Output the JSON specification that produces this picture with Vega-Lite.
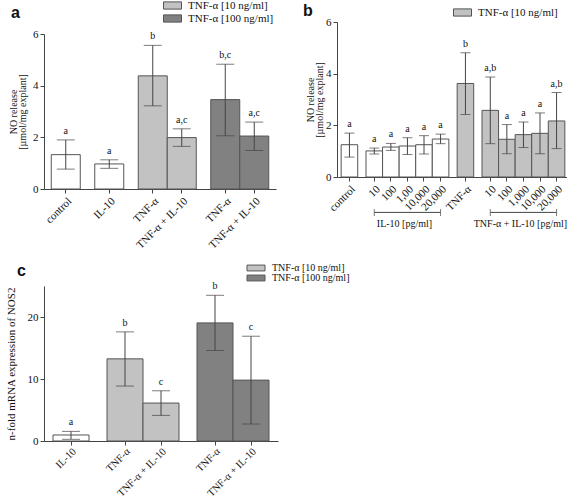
{
  "$schema": "https://vega.github.io/schema/vega-lite/v6.json",
  "padding": {"left": 5, "top": 0, "right": 0, "bottom": 0},
  "background": "white",
  "config": {
    "view": {"stroke": null},
    "font": "Liberation Serif",
    "axis": {
      "grid": false, "domainColor": "#444", "tickColor": "#444", "labelColor": "#111",
      "labelFont": "Liberation Serif", "labelFontSize": 11, "tickSize": 4, "labelPadding": 2,
      "titleFont": "Liberation Serif", "titleFontSize": 10, "titleLineHeight": 9, "titleFontWeight": "normal", "titleColor": "#111"
    },
    "legend": {
      "orient": "none", "title": null, "labelFont": "Liberation Serif", "labelFontSize": 11, "labelColor": "#111",
      "symbolType": "M-2,-0.8H2V0.8H-2Z", "symbolSize": 81, "symbolStrokeColor": "#555", "symbolStrokeWidth": 1,
      "symbolOpacity": 1, "rowPadding": 0, "labelOffset": 10, "padding": 0
    },
    "title": {"font": "Liberation Sans", "fontSize": 16, "fontWeight": "bold", "color": "#111", "anchor": "start", "frame": "group", "baseline": "alphabetic", "offset": 0}
  },
  "resolve": {"scale": {"x": "independent", "y": "independent", "fill": "independent"}, "legend": {"fill": "independent"}},
  "bounds": "flush",
  "columns": 2,
  "spacing": {"row": 97, "column": 59},
  "concat": [
    {
      "width": 232, "height": 167,
      "title": {"text": "a", "dx": -33, "dy": 25},
      "data": {"values": [
        {"bar": "control", "dose": "none", "mean": 1.33, "lo": 0.77, "hi": 1.90, "sig": "a"},
        {"bar": "IL-10", "dose": "none", "mean": 0.97, "lo": 0.80, "hi": 1.13, "sig": "a"},
        {"bar": "TNF-α|10", "dose": "TNF-α [10 ng/ml]", "mean": 4.38, "lo": 3.22, "hi": 5.56, "sig": "b"},
        {"bar": "TNF-α + IL-10|10", "dose": "TNF-α [10 ng/ml]", "mean": 1.99, "lo": 1.65, "hi": 2.33, "sig": "a,c"},
        {"bar": "TNF-α|100", "dose": "TNF-α [100 ng/ml]", "mean": 3.46, "lo": 2.06, "hi": 4.83, "sig": "b,c"},
        {"bar": "TNF-α + IL-10|100", "dose": "TNF-α [100 ng/ml]", "mean": 2.05, "lo": 1.49, "hi": 2.59, "sig": "a,c"}
      ]},
      "layer": [
        {
          "mark": {"type": "bar", "width": {"band": 2}, "stroke": "#555", "strokeWidth": 1},
          "encoding": {
            "x": {"field": "bar", "type": "nominal", "sort": null,
              "scale": {"type": "band", "paddingInner": 0, "paddingOuter": 0,
                "domain": ["s0", "control", "s1", "s2", "IL-10", "s3", "s4", "TNF-α|10", "s5", "TNF-α + IL-10|10", "s6", "s7", "TNF-α|100", "s8", "TNF-α + IL-10|100", "s9"]},
              "axis": {"title": null, "labelAngle": -45, "labelAlign": "right", "labelBaseline": "top",
                "values": ["control", "IL-10", "TNF-α|10", "TNF-α + IL-10|10", "TNF-α|100", "TNF-α + IL-10|100"],
                "labelExpr": "split(datum.label, '|')[0]"}},
            "y": {"field": "mean", "type": "quantitative",
              "scale": {"domain": [0, 6], "range": [167, 12], "nice": false},
              "axis": {"title": ["NO release", "[µmol/mg explant]"], "values": [0, 2, 4, 6], "titlePadding": 5}},
            "fill": {"field": "dose", "type": "nominal",
              "scale": {"domain": ["none", "TNF-α [10 ng/ml]", "TNF-α [100 ng/ml]"], "range": ["#ffffff", "#c2c2c2", "#818181"]},
              "legend": {"values": ["TNF-α [10 ng/ml]", "TNF-α [100 ng/ml]"], "legendX": 123, "legendY": -22}}
          }
        },
        {
          "mark": {"type": "rule", "color": "#444", "strokeWidth": 1},
          "encoding": {"x": {"field": "bar", "type": "nominal"}, "y": {"field": "lo", "type": "quantitative"}, "y2": {"field": "hi"}}
        },
        {
          "mark": {"type": "tick", "orient": "horizontal", "size": 18, "thickness": 1, "color": "#444"},
          "encoding": {"x": {"field": "bar", "type": "nominal"}, "y": {"field": "hi", "type": "quantitative"}}
        },
        {
          "mark": {"type": "tick", "orient": "horizontal", "size": 18, "thickness": 1, "color": "#444"},
          "encoding": {"x": {"field": "bar", "type": "nominal"}, "y": {"field": "lo", "type": "quantitative"}}
        },
        {
          "mark": {"type": "text", "baseline": "bottom", "dy": -4, "fontSize": 10, "font": "Liberation Serif", "color": "#111"},
          "encoding": {"x": {"field": "bar", "type": "nominal"}, "y": {"field": "hi", "type": "quantitative"}, "text": {"field": "sig"}}
        }
      ]
    },
    {
      "width": 232, "height": 155,
      "title": {"text": "b", "dx": -34, "dy": 16},
      "layer": [
        {
          "data": {"values": [
            {"bar": "control", "dose": "none", "mean": 1.25, "lo": 0.77, "hi": 1.70, "sig": "a"},
            {"bar": "IL-10|10", "dose": "none", "mean": 1.01, "lo": 0.89, "hi": 1.12, "sig": "a"},
            {"bar": "IL-10|100", "dose": "none", "mean": 1.16, "lo": 1.03, "hi": 1.30, "sig": "a"},
            {"bar": "IL-10|1,00", "dose": "none", "mean": 1.20, "lo": 0.87, "hi": 1.52, "sig": "a"},
            {"bar": "IL-10|10,000", "dose": "none", "mean": 1.25, "lo": 0.89, "hi": 1.60, "sig": "a"},
            {"bar": "IL-10|20,000", "dose": "none", "mean": 1.47, "lo": 1.29, "hi": 1.66, "sig": "a"},
            {"bar": "TNF-α", "dose": "TNF-α [10 ng/ml]", "mean": 3.62, "lo": 2.42, "hi": 4.81, "sig": "b"},
            {"bar": "TNF-α + IL-10|10", "dose": "TNF-α [10 ng/ml]", "mean": 2.58, "lo": 1.29, "hi": 3.87, "sig": "a,b"},
            {"bar": "TNF-α + IL-10|100", "dose": "TNF-α [10 ng/ml]", "mean": 1.46, "lo": 0.90, "hi": 2.03, "sig": "a"},
            {"bar": "TNF-α + IL-10|1,000", "dose": "TNF-α [10 ng/ml]", "mean": 1.64, "lo": 1.14, "hi": 2.13, "sig": "a"},
            {"bar": "TNF-α + IL-10|10,000", "dose": "TNF-α [10 ng/ml]", "mean": 1.69, "lo": 0.90, "hi": 2.48, "sig": "a"},
            {"bar": "TNF-α + IL-10|20,000", "dose": "TNF-α [10 ng/ml]", "mean": 2.17, "lo": 1.10, "hi": 3.27, "sig": "a,b"}
          ]},
          "layer": [
            {
              "mark": {"type": "bar", "width": {"band": 2}, "stroke": "#555", "strokeWidth": 1},
              "encoding": {
                "x": {"field": "bar", "type": "nominal", "sort": null,
                  "scale": {"type": "band", "paddingInner": 0, "paddingOuter": 0,
                    "domain": ["s0", "control", "s1", "s2", "IL-10|10", "s3", "IL-10|100", "s4", "IL-10|1,00", "s5", "IL-10|10,000", "s6", "IL-10|20,000", "s7", "s8", "TNF-α", "s9", "s10", "TNF-α + IL-10|10", "s11", "TNF-α + IL-10|100", "s12", "TNF-α + IL-10|1,000", "s13", "TNF-α + IL-10|10,000", "s14", "TNF-α + IL-10|20,000", "s15"]},
                  "axis": {"title": null, "labelAngle": -45, "labelAlign": "right", "labelBaseline": "top",
                    "values": ["control", "IL-10|10", "IL-10|100", "IL-10|1,00", "IL-10|10,000", "IL-10|20,000", "TNF-α", "TNF-α + IL-10|10", "TNF-α + IL-10|100", "TNF-α + IL-10|1,000", "TNF-α + IL-10|10,000", "TNF-α + IL-10|20,000"],
                    "labelExpr": "peek(split(datum.label, '|'))"}},
                "y": {"field": "mean", "type": "quantitative",
                  "scale": {"domain": [0, 6], "nice": false},
                  "axis": {"title": ["NO release", "[µmol/mg explant]"], "values": [0, 2, 4, 6], "titlePadding": 1}},
                "fill": {"field": "dose", "type": "nominal",
                  "scale": {"domain": ["none", "TNF-α [10 ng/ml]"], "range": ["#ffffff", "#c2c2c2"]},
                  "legend": {"values": ["TNF-α [10 ng/ml]"], "legendX": 120, "legendY": -15}}
              }
            },
            {
              "mark": {"type": "rule", "color": "#444", "strokeWidth": 1},
              "encoding": {"x": {"field": "bar", "type": "nominal"}, "y": {"field": "lo", "type": "quantitative"}, "y2": {"field": "hi"}}
            },
            {
              "mark": {"type": "tick", "orient": "horizontal", "size": 10, "thickness": 1, "color": "#444"},
              "encoding": {"x": {"field": "bar", "type": "nominal"}, "y": {"field": "hi", "type": "quantitative"}}
            },
            {
              "mark": {"type": "tick", "orient": "horizontal", "size": 10, "thickness": 1, "color": "#444"},
              "encoding": {"x": {"field": "bar", "type": "nominal"}, "y": {"field": "lo", "type": "quantitative"}}
            },
            {
              "mark": {"type": "text", "baseline": "bottom", "dy": -4, "fontSize": 10, "font": "Liberation Serif", "color": "#111"},
              "encoding": {"x": {"field": "bar", "type": "nominal"}, "y": {"field": "hi", "type": "quantitative"}, "text": {"field": "sig"}}
            }
          ]
        },
        {
          "data": {"values": [
            {"label": "IL-10 [pg/ml]", "from": "IL-10|10", "mid": "IL-10|1,00", "to": "IL-10|20,000"},
            {"label": "TNF-α + IL-10 [pg/ml]", "from": "TNF-α + IL-10|10", "mid": "TNF-α + IL-10|1,000", "to": "TNF-α + IL-10|20,000"}
          ]},
          "layer": [
            {
              "mark": {"type": "rule", "color": "#444", "strokeWidth": 1},
              "encoding": {"x": {"field": "from", "type": "nominal"}, "x2": {"field": "to"}, "y": {"datum": -1.37}}
            },
            {
              "transform": [{"fold": ["from", "to"], "as": ["end", "pos"]}],
              "mark": {"type": "tick", "orient": "vertical", "size": 7, "thickness": 1, "color": "#444"},
              "encoding": {"x": {"field": "pos", "type": "nominal"}, "y": {"datum": -1.37}}
            },
            {
              "mark": {"type": "text", "baseline": "middle", "fontSize": 10, "dx": -3, "font": "Liberation Serif", "color": "#111"},
              "encoding": {"x": {"field": "mid", "type": "nominal"}, "y": {"datum": -1.8}, "text": {"field": "label"}}
            }
          ]
        }
      ]
    },
    {
      "width": 234, "height": 155,
      "title": {"text": "c", "dx": -27, "dy": 20},
      "data": {"values": [
        {"bar": "IL-10", "dose": "none", "mean": 0.97, "lo": 0.27, "hi": 1.55, "sig": "a"},
        {"bar": "TNF-α|10", "dose": "TNF-α [10 ng/ml]", "mean": 13.25, "lo": 8.86, "hi": 17.6, "sig": "b"},
        {"bar": "TNF-α + IL-10|10", "dose": "TNF-α [10 ng/ml]", "mean": 6.12, "lo": 4.13, "hi": 8.1, "sig": "c"},
        {"bar": "TNF-α|100", "dose": "TNF-α [100 ng/ml]", "mean": 19.05, "lo": 14.6, "hi": 23.5, "sig": "b"},
        {"bar": "TNF-α + IL-10|100", "dose": "TNF-α [100 ng/ml]", "mean": 9.82, "lo": 2.74, "hi": 16.9, "sig": "c"}
      ]},
      "layer": [
        {
          "mark": {"type": "bar", "width": {"band": 2}, "stroke": "#555", "strokeWidth": 1},
          "encoding": {
            "x": {"field": "bar", "type": "nominal", "sort": null,
              "scale": {"type": "band", "paddingInner": 0, "paddingOuter": 0,
                "domain": ["s0", "IL-10", "s1", "s2", "TNF-α|10", "s3", "TNF-α + IL-10|10", "s4", "s5", "TNF-α|100", "s6", "TNF-α + IL-10|100", "s7"]},
              "axis": {"title": null, "labelAngle": -45, "labelAlign": "right", "labelBaseline": "top", "labelFontSize": 10.5, "labelPadding": 1,
                "values": ["IL-10", "TNF-α|10", "TNF-α + IL-10|10", "TNF-α|100", "TNF-α + IL-10|100"],
                "labelExpr": "split(datum.label, '|')[0]"}},
            "y": {"field": "mean", "type": "quantitative",
              "scale": {"domain": [0, 25], "nice": false},
              "axis": {"title": "n-fold mRNA expression of NOS2", "titleFontSize": 11, "values": [0, 5, 10, 15, 20, 25], "titlePadding": 11}},
            "fill": {"field": "dose", "type": "nominal",
              "scale": {"domain": ["none", "TNF-α [10 ng/ml]", "TNF-α [100 ng/ml]"], "range": ["#ffffff", "#c2c2c2", "#818181"]},
              "legend": {"values": ["TNF-α [10 ng/ml]", "TNF-α [100 ng/ml]"], "legendX": 207, "legendY": -23, "labelFontSize": 10, "rowPadding": -1, "labelOffset": 11, "symbolType": "M-2,-0.65H2V0.65H-2Z"}}
          }
        },
        {
          "mark": {"type": "rule", "color": "#444", "strokeWidth": 1},
          "encoding": {"x": {"field": "bar", "type": "nominal"}, "y": {"field": "lo", "type": "quantitative"}, "y2": {"field": "hi"}}
        },
        {
          "mark": {"type": "tick", "orient": "horizontal", "size": 18, "thickness": 1, "color": "#444"},
          "encoding": {"x": {"field": "bar", "type": "nominal"}, "y": {"field": "hi", "type": "quantitative"}}
        },
        {
          "mark": {"type": "tick", "orient": "horizontal", "size": 18, "thickness": 1, "color": "#444"},
          "encoding": {"x": {"field": "bar", "type": "nominal"}, "y": {"field": "lo", "type": "quantitative"}}
        },
        {
          "mark": {"type": "text", "baseline": "bottom", "dy": -4, "fontSize": 10, "font": "Liberation Serif", "color": "#111"},
          "encoding": {"x": {"field": "bar", "type": "nominal"}, "y": {"field": "hi", "type": "quantitative"}, "text": {"field": "sig"}}
        }
      ]
    }
  ]
}
